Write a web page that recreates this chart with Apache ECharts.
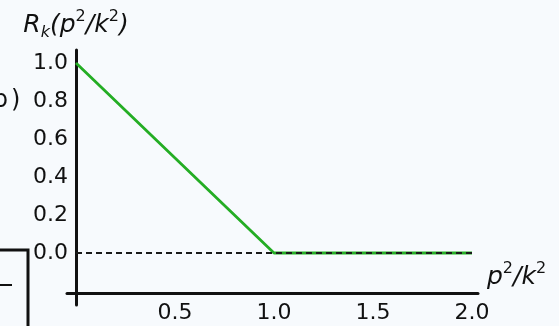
<!DOCTYPE html>
<html>
<head>
<meta charset="utf-8">
<script src="https://cdn.jsdelivr.net/npm/echarts@6/dist/echarts.min.js"></script>
<style>
  html, body { margin: 0; padding: 0; background: #f7fafd; }
  #chart { width: 559px; height: 326px; }
</style>
</head>
<body>
<div id="chart"></div>
<script>
// Regulator shape R_k(p^2/k^2): linear fall-off to zero at p^2 = k^2
const momentumRatio = [0, 1, 2];
const regulator = [1, 0, 0];

// Zero reference line
const baselineX = [0, 2];
const baselineY = [0, 0];

// Tick labels
const xTicks = [0.5, 1.0, 1.5, 2.0];
const yTicks = [0, 0.2, 0.4, 0.6, 0.8, 1.0];

const FONT = 'DejaVu Sans';
const INK = '#111111';

const chart = echarts.init(document.getElementById('chart'), null, { renderer: 'canvas' });

// Lower axis extends a little past both ends of the plotted range
const xMin = -0.0455, xMax = 2.0303;

chart.setOption({
  backgroundColor: '#f7fafd',
  animation: false,
  grid: [
    { left: 76, right: 87, top: 50, bottom: 21, containLabel: false, outerBoundsMode: 'none' },
    { left: 67, right: 81, top: 280, bottom: 33, containLabel: false, outerBoundsMode: 'none' }
  ],
  xAxis: [
    { type: 'value', gridIndex: 0, min: 0, max: 2, show: false },
    {
      type: 'value', gridIndex: 1, min: xMin, max: xMax,
      axisLine: { show: true, onZero: false, lineStyle: { color: INK, width: 3 } },
      axisTick: { show: false },
      splitLine: { show: false },
      axisLabel: {
        customValues: xTicks,
        formatter: v => v.toFixed(1),
        fontFamily: FONT, fontSize: 22, color: INK, margin: 9
      },
      name: '{i|p}{sup|2}{i|/k}{sup|2}',
      nameLocation: 'end',
      nameGap: 9,
      nameTextStyle: {
        verticalAlign: 'bottom',
        align: 'left',
        rich: {
          i: { fontFamily: FONT, fontStyle: 'italic', fontSize: 25, color: INK, lineHeight: 32 },
          sup: { fontFamily: FONT, fontSize: 16, color: INK, verticalAlign: 'top' }
        }
      }
    }
  ],
  yAxis: [
    {
      type: 'value', gridIndex: 0, min: -0.2737, max: 1.0684,
      axisLine: { show: true, onZero: false, lineStyle: { color: INK, width: 3 } },
      axisTick: { show: false },
      splitLine: { show: false },
      axisLabel: {
        customValues: yTicks,
        formatter: v => v.toFixed(1),
        fontFamily: FONT, fontSize: 22, color: INK, margin: 8
      },
      name: '{i|R}{sub|k}{i|(p}{sup|2}{i|/k}{sup|2}{i|)}',
      nameLocation: 'end',
      nameGap: 9,
      nameTextStyle: {
        rich: {
          i: { fontFamily: FONT, fontStyle: 'italic', fontSize: 25, color: INK, lineHeight: 32 },
          sub: { fontFamily: FONT, fontStyle: 'italic', fontSize: 16, color: INK, verticalAlign: 'bottom' },
          sup: { fontFamily: FONT, fontSize: 16, color: INK, verticalAlign: 'top' }
        }
      }
    },
    { type: 'value', gridIndex: 1, min: 0, max: 1, show: false }
  ],
  series: [
    {
      type: 'line',
      xAxisIndex: 0, yAxisIndex: 0,
      data: momentumRatio.map((x, i) => [x, regulator[i]]),
      symbol: 'none',
      lineStyle: { color: '#24ad24', width: 2.8 },
      z: 2
    },
    {
      type: 'line',
      xAxisIndex: 0, yAxisIndex: 0,
      data: baselineX.map((x, i) => [x, baselineY[i]]),
      symbol: 'none',
      lineStyle: { color: '#1a1a1a', width: 2, type: [6, 4] },
      z: 3
    }
  ],
  graphic: [
    {
      type: 'text',
      x: 8, y: 101,
      style: { text: 'b', align: 'right', verticalAlign: 'middle', font: '24px "DejaVu Sans"', fill: INK }
    },
    {
      type: 'text',
      x: 11, y: 101,
      style: { text: ')', align: 'left', verticalAlign: 'middle', font: '24px "DejaVu Sans"', fill: INK }
    },
    {
      type: 'polyline',
      shape: { points: [[0, 250], [28, 250], [28, 330]] },
      style: { stroke: INK, lineWidth: 3, fill: null }
    },
    {
      type: 'line',
      shape: { x1: 0, y1: 285, x2: 12, y2: 285 },
      style: { stroke: INK, lineWidth: 2 }
    }
  ]
});
</script>
</body>
</html>
